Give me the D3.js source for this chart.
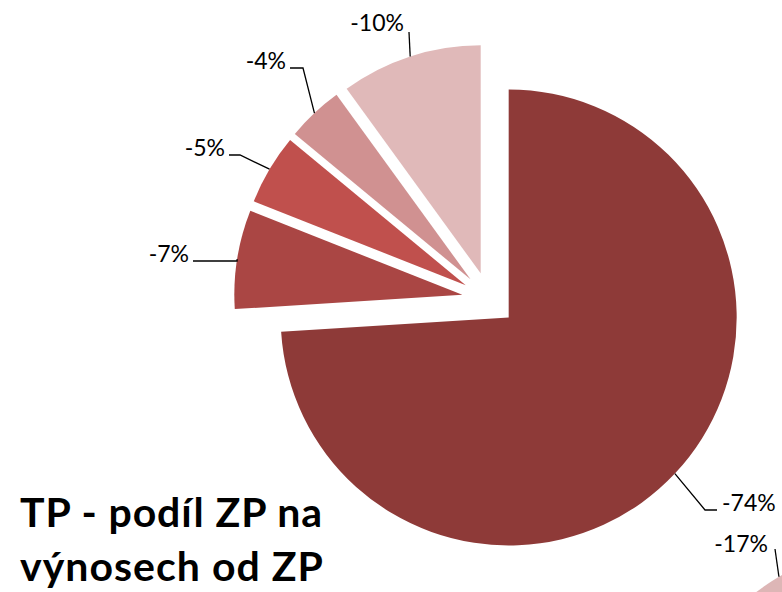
<!DOCTYPE html>
<html><head><meta charset="utf-8">
<script src="https://cdn.jsdelivr.net/npm/d3@7"></script>
<style>html,body{margin:0;padding:0;background:#fff;} svg{display:block;}</style>
</head><body><svg id="c" width="782" height="592"></svg>
<script>
// ---- data ----
const categories = ["Položka 1", "Položka 2", "Položka 3", "Položka 4", "Položka 5"];
const values = [-74, -7, -5, -4, -10];
const colors = ["#8E3A38", "#AA4644", "#C0504D", "#D09191", "#E0B9B9"];
const categories2 = ["Položka 5"];
const values2 = [-17];
const colors2 = ["#DDB6B6"];
const titleLines = ["TP - podíl ZP na", "výnosech od ZP"];

// ---- layout ----
const W = 782, H = 592;
const cx = 489, cy = 299, R = 228, explode = 27;
const cx2 = 895, cy2 = 773;
const labelFont = "Lato, 'Open Sans', sans-serif";
const labelSize = 23;
const labelLayout = [
  {tx: 722, ty: 511, anchor: "start", pts: [[705, 510], [717, 510]]},
  {tx: 189, ty: 262, anchor: "end",   pts: [[237, 261], [193, 261]]},
  {tx: 225, ty: 156, anchor: "end",   pts: [[240, 155], [229, 155]]},
  {tx: 286, ty: 69,  anchor: "end",   pts: [[303, 68], [290, 68]]},
  {tx: 404, ty: 31,  anchor: "end",   pts: [[409, 32]]}
];
const labelLayout2 = [{tx: 768, ty: 552, anchor: "end", pts: [[775, 549]]}];
const titleWidths = [302, 303];

const svg = d3.select("#c");
svg.append("rect").attr("width", W).attr("height", H).attr("fill", "#fff");

const fmt = v => `${v}%`;
const pie = d3.pie().sort(null).value(d => Math.abs(d)).startAngle(0).endAngle(2 * Math.PI);
const arcs = pie(values);
const arc = d3.arc().innerRadius(0).outerRadius(R);

function dir(a) { return [Math.sin(a), -Math.cos(a)]; }

const g = svg.append("g");
arcs.forEach((a, i) => {
  const m = (a.startAngle + a.endAngle) / 2;
  const [dx, dy] = dir(m);
  const ox = cx + dx * explode, oy = cy + dy * explode;
  g.append("path")
    .attr("d", arc(a))
    .attr("transform", `translate(${ox},${oy})`)
    .attr("fill", colors[i]);
  const ax = ox + dx * R, ay = oy + dy * R;
  const L = labelLayout[i];
  const pts = [[ax, ay]].concat(L.pts);
  g.append("path")
    .attr("d", d3.line()(pts))
    .attr("fill", "none").attr("stroke", "#000").attr("stroke-width", 1.3);
  g.append("text")
    .attr("x", L.tx).attr("y", L.ty)
    .attr("text-anchor", L.anchor)
    .attr("font-family", labelFont).attr("font-size", labelSize)
    .attr("fill", "#000")
    .text(fmt(values[i]));
});

// second (partially visible) pie
const ang = d3.scaleLinear().domain([0, 100]).range([0, 2 * Math.PI]);
let end = 2 * Math.PI;
values2.slice().reverse().forEach((v, j) => {
  const i = values2.length - 1 - j;
  const s = end - ang(Math.abs(v));
  const a = {startAngle: s, endAngle: end};
  const m = (s + end) / 2;
  const [dx, dy] = dir(m);
  g.append("path")
    .attr("d", arc(a))
    .attr("transform", `translate(${cx2},${cy2})`)
    .attr("fill", colors2[i]);
  const ax = cx2 + dx * R, ay = cy2 + dy * R;
  const L = labelLayout2[i];
  g.append("path")
    .attr("d", d3.line()([[ax, ay]].concat(L.pts)))
    .attr("fill", "none").attr("stroke", "#000").attr("stroke-width", 1.3);
  g.append("text")
    .attr("x", L.tx).attr("y", L.ty)
    .attr("text-anchor", L.anchor)
    .attr("font-family", labelFont).attr("font-size", labelSize)
    .attr("fill", "#000")
    .text(fmt(v));
  end = s;
});

// title
const title = svg.append("text")
  .attr("font-family", "Lato, 'Open Sans', sans-serif")
  .attr("font-weight", "bold").attr("font-size", 41).attr("fill", "#000");
titleLines.forEach((t, k) => {
  title.append("tspan").attr("x", 20).attr("y", 527 + k * 54)
    .attr("textLength", titleWidths[k]).attr("lengthAdjust", "spacing")
    .text(t);
});
</script>
</body></html>
